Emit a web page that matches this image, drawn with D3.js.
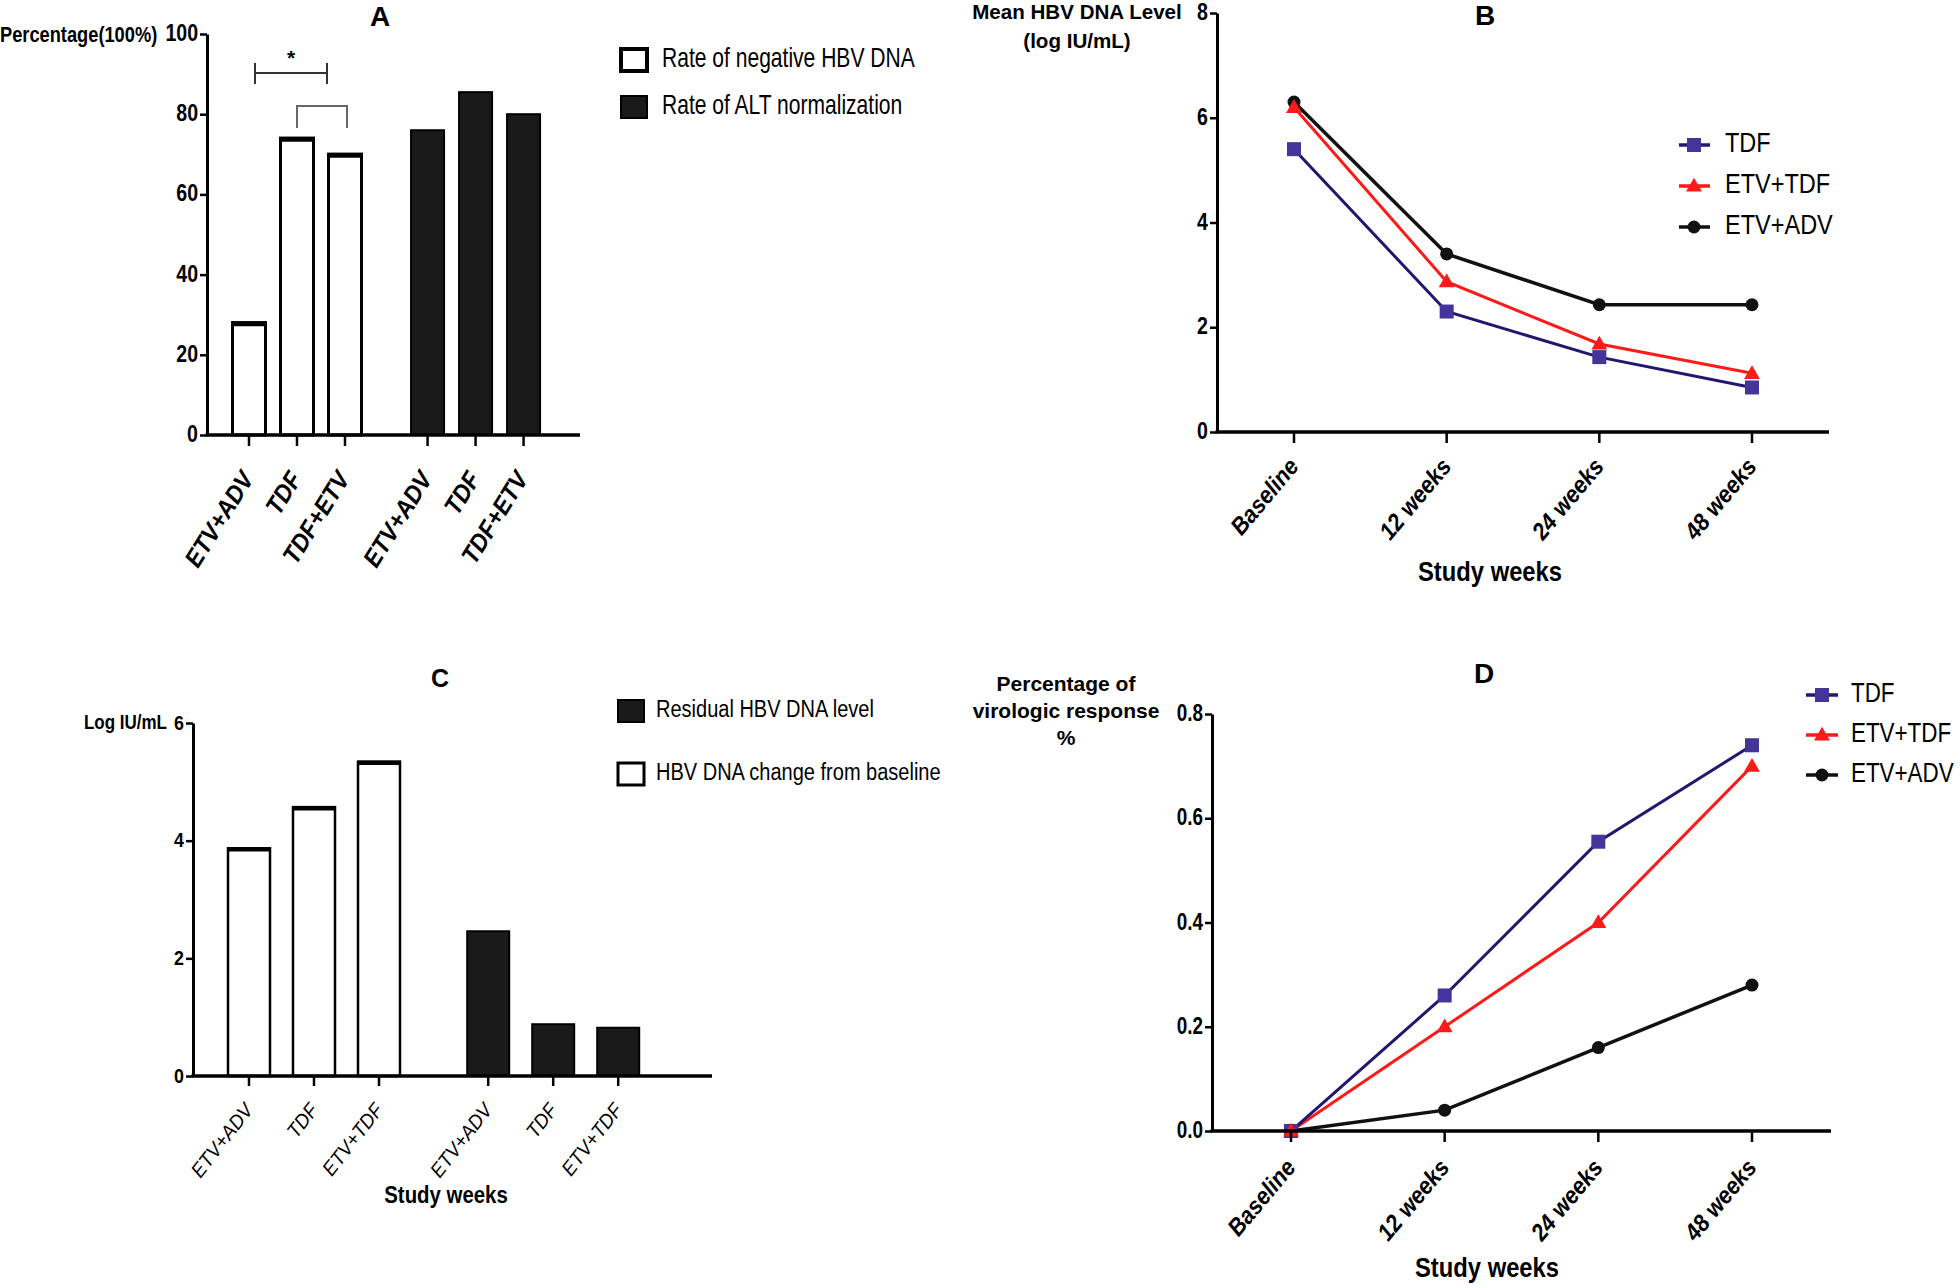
<!DOCTYPE html>
<html><head><meta charset="utf-8">
<script src="https://cdn.jsdelivr.net/npm/d3@7"></script>
<style>
html,body{margin:0;padding:0;background:#fff;}
svg text{font-family:"Liberation Sans Narrow","Arial Narrow","Liberation Sans",Arial,sans-serif;fill:#000;}
</style></head>
<body>
<svg id="c" width="1960" height="1288"></svg>
<script>
// ---------- DATA ----------
const groupsA = ["ETV+ADV","TDF","TDF+ETV"];
const negHBVRate = [28, 74, 70];
const altNormRate = [76, 85.5, 80];
const yTicksA = [0,20,40,60,80,100];
const legendA = ["Rate of negative HBV DNA","Rate of ALT normalization"];

const weeks = ["Baseline","12 weeks","24 weeks","48 weeks"];
const seriesNames = ["TDF","ETV+TDF","ETV+ADV"];
const dnaTDF = [5.4, 2.3, 1.43, 0.85];
const dnaETVTDF = [6.2, 2.87, 1.68, 1.12];
const dnaETVADV = [6.3, 3.4, 2.43, 2.43];
const yTicksB = [0,2,4,6,8];

const groupsC = ["ETV+ADV","TDF","ETV+TDF"];
const dnaChange = [3.87, 4.57, 5.34];
const residualDNA = [2.46, 0.88, 0.82];
const yTicksC = [0,2,4,6];
const legendC = ["Residual HBV DNA level","HBV DNA change from baseline"];

const vrTDF = [0, 0.26, 0.555, 0.74];
const vrETVTDF = [0, 0.2, 0.4, 0.7];
const vrETVADV = [0, 0.04, 0.16, 0.28];
const yTicksD = [0,0.2,0.4,0.6,0.8];

const colors = {"TDF":"#22166e","ETV+TDF":"#ff1a1a","ETV+ADV":"#111"};
const markerCol = {"TDF":"#45349a","ETV+TDF":"#ff1a1a","ETV+ADV":"#111"};
const BLACK = "#1a1a1a";

const svg = d3.select("#c");

function T(g, x, y, s, o){
  return g.append("text")
    .attr("transform",`translate(${x},${y}) rotate(${o.rot||0}) scale(${o.sx||1},1)`)
    .attr("font-size",o.fs).attr("font-weight",o.fw||"normal").attr("font-style",o.it?"italic":"normal")
    .attr("text-anchor",o.anchor||"start").attr("dominant-baseline","middle").text(s);
}
function yAxis(g, y, x0, ticks, fmt, fs, sx){
  const ax = g.append("g").attr("transform",`translate(${x0},0)`)
    .call(d3.axisLeft(y).tickValues(ticks).tickFormat(()=>"").tickSize(7).tickSizeOuter(0));
  ax.select(".domain").attr("stroke","#000").attr("stroke-width",3);
  ax.selectAll(".tick line").attr("stroke","#000").attr("stroke-width",2.5);
  ticks.forEach(t=>T(g, x0-9, y(t)+1, fmt(t), {fs:fs, fw:"bold", anchor:"end", sx:sx}));
}
function hAxis(g, x0, x1, y0){
  g.append("line").attr("x1",x0-1.5).attr("x2",x1).attr("y1",y0).attr("y2",y0).attr("stroke","#000").attr("stroke-width",3.5);
}
function xTicks(g, xs, y0, labels, o){
  xs.forEach((x,i)=>{
    g.append("line").attr("x1",x).attr("x2",x).attr("y1",y0).attr("y2",y0+o.len).attr("stroke","#000").attr("stroke-width",2.5);
    T(g, x+o.dx, y0+o.dy, labels[i], {fs:o.fs, fw:o.fw, it:true, anchor:"end", rot:o.rot, sx:o.sx});
  });
}
function marker(g, type, x, y, col){
  if(type==="TDF") g.append("rect").attr("x",x-7).attr("y",y-7).attr("width",14).attr("height",14).attr("fill",col);
  else if(type==="ETV+TDF") g.append("path").attr("d",d3.symbol(d3.symbolTriangle,110)()).attr("transform",`translate(${x},${y+1})`).attr("fill",col);
  else g.append("circle").attr("cx",x).attr("cy",y).attr("r",6.5).attr("fill",col);
}

// ---------- PANEL A ----------
{
  const g = svg.append("g");
  const y = d3.scaleLinear().domain([0,100]).range([435,34]);
  const x = d3.scaleLinear().domain([0,1]).range([249,297]);
  const pos = (grp,i)=> grp*3.72 + i;
  const bw = 33;
  negHBVRate.forEach((v,i)=>{
    const cx = x(pos(0,i));
    g.append("rect").attr("x",cx-bw/2).attr("y",y(v)).attr("width",bw).attr("height",y(0)-y(v))
      .attr("fill","#fff").attr("stroke","#000").attr("stroke-width",3);
    g.append("line").attr("x1",cx-bw/2-1.5).attr("x2",cx+bw/2+1.5).attr("y1",y(v)+1).attr("y2",y(v)+1).attr("stroke","#000").attr("stroke-width",5);
  });
  altNormRate.forEach((v,i)=>{
    const cx = x(pos(1,i));
    g.append("rect").attr("x",cx-bw/2).attr("y",y(v)).attr("width",bw).attr("height",y(0)-y(v))
      .attr("fill",BLACK).attr("stroke","#000").attr("stroke-width",2);
  });
  yAxis(g,y,207,yTicksA,d3.format("d"),23,0.85);
  hAxis(g,207,580,435);
  const xs = [0,1,2].map(i=>x(pos(0,i))).concat([0,1,2].map(i=>x(pos(1,i))));
  xTicks(g,xs,435,groupsA.concat(groupsA),{fs:25,fw:"bold",len:11,dx:0,dy:40,rot:-58,sx:0.92});
  T(g,0,36,"Percentage(100%)",{fs:22,fw:"bold",sx:0.83});
  T(g,380,19,"A",{fs:28,fw:"bold",anchor:"middle"});
  // significance brackets
  const b1x0 = x(pos(0,0))+6, b1x1 = x(pos(0,1))+30, b1y = 73;
  g.append("path").attr("d",`M${b1x0},${b1y-10}V${b1y+11}M${b1x0},${b1y}H${b1x1}M${b1x1},${b1y-10}V${b1y+11}`).attr("stroke","#333").attr("stroke-width",2).attr("fill","none");
  T(g,(b1x0+b1x1)/2,b1y-14,"*",{fs:21,fw:"bold",anchor:"middle"});
  const b2x0 = x(pos(0,1)), b2x1 = x(pos(0,2))+2, b2y = 106;
  g.append("path").attr("d",`M${b2x0},${b2y+22}V${b2y}H${b2x1}V${b2y+22}`).attr("stroke","#666").attr("stroke-width",2).attr("fill","none");
  // legend
  legendA.forEach((t,i)=>{
    const ly = 60 + i*47;
    g.append("rect").attr("x",621).attr("y",ly-11).attr("width",26).attr("height",22)
      .attr("fill",i===0?"#fff":BLACK).attr("stroke","#000").attr("stroke-width",i===0?4:2);
    T(g,662,ly,t,{fs:27,sx:0.78});
  });
}

// ---------- PANEL B ----------
{
  const g = svg.append("g");
  const y = d3.scaleLinear().domain([0,8]).range([432,13]);
  const x = d3.scalePoint().domain(weeks).range([1294,1752]);
  const data = {"TDF":dnaTDF,"ETV+TDF":dnaETVTDF,"ETV+ADV":dnaETVADV};
  const line = d3.line().x((d,i)=>x(weeks[i])).y(d=>y(d));
  ["ETV+ADV","ETV+TDF","TDF"].forEach(s=>{
    g.append("path").attr("d",line(data[s])).attr("fill","none").attr("stroke",colors[s]).attr("stroke-width",s==="ETV+ADV"?3.5:3);
  });
  ["ETV+ADV","ETV+TDF","TDF"].forEach(s=>{
    data[s].forEach((v,i)=>marker(g,s,x(weeks[i]),y(v),markerCol[s]));
  });
  yAxis(g,y,1217,yTicksB,d3.format("d"),23,0.85);
  hAxis(g,1217,1829,432);
  xTicks(g,weeks.map(w=>x(w)),432,weeks,{fs:24,fw:"bold",len:11,dx:1,dy:31,rot:-50,sx:0.92});
  T(g,1077,13,"Mean HBV DNA Level",{fs:21,fw:"bold",anchor:"middle",sx:0.98});
  T(g,1077,42,"(log IU/mL)",{fs:21,fw:"bold",anchor:"middle",sx:0.98});
  T(g,1485,18,"B",{fs:28,fw:"bold",anchor:"middle"});
  T(g,1490,574,"Study weeks",{fs:28,fw:"bold",anchor:"middle",sx:0.85});
  seriesNames.forEach((s,i)=>{
    const ly = 145 + i*41;
    g.append("line").attr("x1",1679).attr("x2",1710).attr("y1",ly).attr("y2",ly).attr("stroke",colors[s]).attr("stroke-width",3.5);
    marker(g,s,1694,ly,markerCol[s]);
    T(g,1725,ly,s,{fs:28,sx:0.84});
  });
}

// ---------- PANEL C ----------
{
  const g = svg.append("g");
  const y = d3.scaleLinear().domain([0,6]).range([1076,723]);
  const x = d3.scaleLinear().domain([0,1]).range([249,314]);
  const pos = (grp,i)=> grp*3.68 + i;
  const bw = 42;
  dnaChange.forEach((v,i)=>{
    const cx = x(pos(0,i));
    g.append("rect").attr("x",cx-bw/2).attr("y",y(v)).attr("width",bw).attr("height",y(0)-y(v))
      .attr("fill","#fff").attr("stroke","#000").attr("stroke-width",2.5);
    g.append("line").attr("x1",cx-bw/2-1).attr("x2",cx+bw/2+1).attr("y1",y(v)+1).attr("y2",y(v)+1).attr("stroke","#000").attr("stroke-width",4.5);
  });
  residualDNA.forEach((v,i)=>{
    const cx = x(pos(1,i));
    g.append("rect").attr("x",cx-bw/2).attr("y",y(v)).attr("width",bw).attr("height",y(0)-y(v))
      .attr("fill",BLACK).attr("stroke","#000").attr("stroke-width",2);
  });
  yAxis(g,y,193,yTicksC,d3.format("d"),21,0.85);
  hAxis(g,193,712,1076);
  const xs = [0,1,2].map(i=>x(pos(0,i))).concat([0,1,2].map(i=>x(pos(1,i))));
  xTicks(g,xs,1076,groupsC.concat(groupsC),{fs:20,fw:"normal",len:10,dx:1,dy:31,rot:-52,sx:0.95});
  T(g,167,724,"Log IU/mL",{fs:20,fw:"bold",anchor:"end",sx:0.85});
  T(g,440,680,"C",{fs:25,fw:"bold",anchor:"middle"});
  T(g,446,1197,"Study weeks",{fs:24,fw:"bold",anchor:"middle",sx:0.85});
  legendC.forEach((t,i)=>{
    const ly = 711 + i*63;
    g.append("rect").attr("x",618).attr("y",ly-11).attr("width",26).attr("height",22)
      .attr("fill",i===0?BLACK:"#fff").attr("stroke","#000").attr("stroke-width",i===0?2:3);
    T(g,656,ly,t,{fs:23,sx:0.87});
  });
}

// ---------- PANEL D ----------
{
  const g = svg.append("g");
  const y = d3.scaleLinear().domain([0,0.8]).range([1131,714]);
  const x = d3.scalePoint().domain(weeks).range([1291,1752]);
  const data = {"TDF":vrTDF,"ETV+TDF":vrETVTDF,"ETV+ADV":vrETVADV};
  const line = d3.line().x((d,i)=>x(weeks[i])).y(d=>y(d));
  ["ETV+ADV","ETV+TDF","TDF"].forEach(s=>{
    g.append("path").attr("d",line(data[s])).attr("fill","none").attr("stroke",colors[s]).attr("stroke-width",s==="ETV+ADV"?3.5:3);
  });
  ["ETV+ADV","TDF","ETV+TDF"].forEach(s=>{
    data[s].forEach((v,i)=>marker(g,s,x(weeks[i]),y(v),markerCol[s]));
  });
  yAxis(g,y,1212,yTicksD,d3.format(".1f"),23,0.82);
  hAxis(g,1212,1831,1131);
  xTicks(g,weeks.map(w=>x(w)),1131,weeks,{fs:24,fw:"bold",len:11,dx:1,dy:33,rot:-50,sx:0.92});
  ["Percentage of","virologic response","%"].forEach((t,i)=>{
    T(g,1066,685+i*27,t,{fs:21,fw:"bold",anchor:"middle"});
  });
  T(g,1484,676,"D",{fs:28,fw:"bold",anchor:"middle"});
  T(g,1487,1270,"Study weeks",{fs:28,fw:"bold",anchor:"middle",sx:0.85});
  seriesNames.forEach((s,i)=>{
    const ly = 695 + i*40;
    g.append("line").attr("x1",1806).attr("x2",1838).attr("y1",ly).attr("y2",ly).attr("stroke",colors[s]).attr("stroke-width",3.5);
    marker(g,s,1822,ly,markerCol[s]);
    T(g,1851,ly,s,{fs:28,sx:0.8});
  });
}
</script>
</body></html>
